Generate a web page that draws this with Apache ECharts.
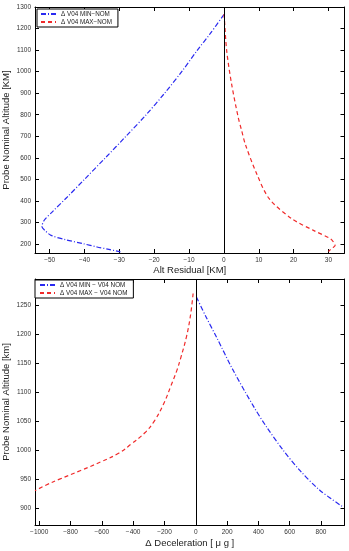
<!DOCTYPE html>
<html><head><meta charset="utf-8">
<script src="https://cdn.jsdelivr.net/npm/echarts@6/dist/echarts.min.js"></script>
<style>html,body{margin:0;padding:0;background:#fff}#c{width:349px;height:551px}</style>
</head><body><div id="c"></div>
<script>
// ---- top panel: altitude residual ----
var topMinAlt = [1265, 1175, 1100, 1000, 900, 800, 700, 600, 500, 417, 348, 309, 280, 262, 240, 220, 201, 186, 175, 163];
var topMinRes = [0, -4.0, -7.6, -12.1, -17.0, -22.3, -28.1, -34.0, -40.0, -45.0, -49.3, -51.6, -52.2, -51.3, -49.6, -45.5, -40.3, -36.4, -33.0, -29.7];
var topMaxAlt = [1267, 1252, 1097, 943, 788, 726, 660, 526, 410, 317, 263, 224, 205, 193, 180, 165];
var topMaxRes = [0, 0.1, 0.8, 2.2, 4.1, 5.1, 6.2, 9.4, 13.0, 19.5, 25.7, 30.6, 31.6, 31.9, 31.0, 30.0];
var topXTicks = [-50, -40, -30, -20, -10, 0, 10, 20, 30];
var topYTicks = [200, 300, 400, 500, 600, 700, 800, 900, 1000, 1100, 1200, 1300];
// ---- bottom panel: deceleration difference ----
var botMinAlt = [1264, 1230, 1195, 1138, 1075, 1040, 1000, 965, 931, 902];
var botMinDec = [4, 65, 132, 238, 370, 452, 558, 665, 792, 941];
var botMaxAlt = [1270, 1230, 1195, 1160, 1138, 1110, 1080, 1050, 1030, 1010, 995, 980, 965, 950, 940, 930];
var botMaxDec = [-17, -35, -60, -95, -120, -160, -205, -265, -325, -415, -490, -605, -735, -870, -955, -1027];
var botXTicks = [-1000, -800, -600, -400, -200, 0, 200, 400, 600, 800];
var botYTicks = [900, 950, 1000, 1050, 1100, 1150, 1200, 1250];

function pairs(xs, ys){ return xs.map(function(x,i){ return [x, ys[i]]; }); }

var FONT = 'Liberation Sans, Arial, sans-serif';
var BLUE = '#2a2af0', RED = '#f02a2a';

function axis(gridIndex, min, max, ticks, pos, showLabel, name, nameGap){
  return {
    type: 'value', gridIndex: gridIndex, min: min, max: max, position: pos,
    name: name || '', nameLocation: 'middle', nameGap: nameGap || 0, nameMoveOverlap: false,
    nameTextStyle: {fontFamily: FONT, fontSize: 9.5, color: '#222'},
    axisLine: {show: true, onZero: false, lineStyle: {color: '#000', width: 1}},
    axisTick: {show: true, inside: true, length: 4, customValues: ticks, lineStyle: {color: '#000', width: 1}},
    axisLabel: {show: showLabel, customValues: ticks, fontFamily: FONT, fontSize: 6.5, color: '#333', margin: 4,
      formatter: function(v){ return String(v).replace('-', '\u2212'); }},
    splitLine: {show: false}
  };
}

var legendCommon = {
  orient: 'vertical', backgroundColor: '#fff', borderColor: '#000', borderWidth: 1, borderRadius: 0,
  itemGap: 2, itemWidth: 15, itemHeight: 7, itemStyle: {opacity: 0},
  textStyle: {fontFamily: FONT, fontSize: 6.3, color: '#222'}
};

var option = {
  animation: false,
  backgroundColor: '#fff',
  grid: [
    {left: 35, top: 7, width: 309.5, height: 246, containLabel: false, outerBoundsMode: 'none'},
    {left: 35, top: 279, width: 309.5, height: 246, containLabel: false, outerBoundsMode: 'none'}
  ],
  xAxis: [
    axis(0, -54.2, 34.6, topXTicks, 'bottom', true, 'Alt Residual [KM]', 12),
    axis(0, -54.2, 34.6, topXTicks, 'top', false),
    axis(1, -1027, 950, botXTicks, 'bottom', true, 'Δ Deceleration [ μ g ]', 13),
    axis(1, -1027, 950, botXTicks, 'top', false)
  ],
  yAxis: [
    axis(0, 158, 1300, topYTicks, 'left', true, 'Probe Nominal Altitude [KM]', 24),
    axis(0, 158, 1300, topYTicks, 'right', false),
    axis(1, 871, 1295, botYTicks, 'left', true, 'Probe Nominal Altitude [km]', 24),
    axis(1, 871, 1295, botYTicks, 'right', false)
  ],
  legend: [
    Object.assign({}, legendCommon, {data: ['Δ V04 MIN−NOM', 'Δ V04 MAX−NOM'], left: 37, top: 9, padding: [2, 6, 2, 3]}),
    Object.assign({}, legendCommon, {data: ['Δ V04 MIN − V04 NOM', 'Δ V04 MAX − V04 NOM'], left: 35, top: 280, padding: [2, 6, 2, 4]})
  ],
  series: [
    {name: 'Δ V04 MIN−NOM', type: 'line', xAxisIndex: 0, yAxisIndex: 0, data: pairs(topMinRes, topMinAlt),
     symbol: 'none', smooth: 0.3, color: BLUE, lineStyle: {color: BLUE, width: 1.2, type: [5, 2, 1, 2]},
     markLine: {silent: true, symbol: 'none', label: {show: false}, lineStyle: {color: '#000', width: 1, type: 'solid'}, data: [{xAxis: 0}]}},
    {name: 'Δ V04 MAX−NOM', type: 'line', xAxisIndex: 0, yAxisIndex: 0, data: pairs(topMaxRes, topMaxAlt),
     symbol: 'none', smooth: 0.3, color: RED, lineStyle: {color: RED, width: 1.2, type: [4, 3]}},
    {name: 'Δ V04 MIN − V04 NOM', type: 'line', xAxisIndex: 2, yAxisIndex: 2, data: pairs(botMinDec, botMinAlt),
     symbol: 'none', smooth: 0.3, color: BLUE, lineStyle: {color: BLUE, width: 1.2, type: [5, 2, 1, 2]},
     markLine: {silent: true, symbol: 'none', label: {show: false}, lineStyle: {color: '#000', width: 1, type: 'solid'}, data: [{xAxis: 0}]}},
    {name: 'Δ V04 MAX − V04 NOM', type: 'line', xAxisIndex: 2, yAxisIndex: 2, data: pairs(botMaxDec, botMaxAlt),
     symbol: 'none', smooth: 0.4, color: RED, lineStyle: {color: RED, width: 1.2, type: [4, 3]}}
  ]
};
var chart = echarts.init(document.getElementById('c'), null, {renderer: 'canvas'});
chart.setOption(option);
</script>
</body></html>
